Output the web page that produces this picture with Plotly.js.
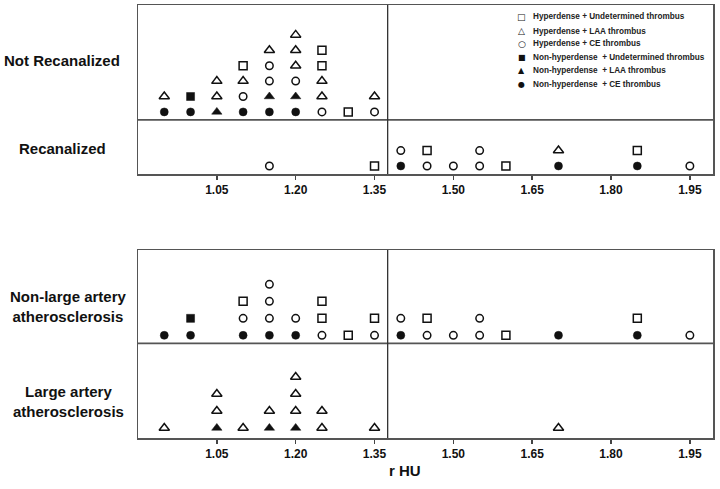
<!DOCTYPE html>
<html>
<head>
<meta charset="utf-8">
<script src="https://cdn.plot.ly/plotly-3.0.1.min.js"></script>
<style>html,body{margin:0;padding:0;background:#fff;}#chart{width:720px;height:489px;}</style>
</head>
<body>
<div id="chart"></div>
<script>
// ---- Data (r HU values, stacked in order from bottom to top) ----
// Type codes: HU = Hyperdense + Undetermined, HL = Hyperdense + LAA, HC = Hyperdense + CE,
//             NU = Non-hyperdense + Undetermined, NL = Non-hyperdense + LAA, NC = Non-hyperdense + CE
const notRecanX = [0.95,0.95, 1.00,1.00, 1.05,1.05,1.05, 1.10,1.10,1.10,1.10,
  1.15,1.15,1.15,1.15,1.15, 1.20,1.20,1.20,1.20,1.20,1.20, 1.25,1.25,1.25,1.25,1.25, 1.30, 1.35,1.35];
const notRecanType = ['NC','HL', 'NC','NU', 'NL','HL','HL', 'NC','HC','HL','HU',
  'NC','NL','HC','HC','HL', 'NC','NL','HC','HL','HL','HL', 'HC','HL','HL','HU','HU', 'HU', 'HC','HL'];

const recanX = [1.15, 1.35, 1.40,1.40, 1.45,1.45, 1.50, 1.55,1.55, 1.60, 1.70,1.70, 1.85,1.85, 1.95];
const recanType = ['HC', 'HU', 'NC','HC', 'HC','HU', 'HC', 'HC','HC', 'HU', 'NC','HL', 'NC','HU', 'HC'];

const nonLaaX = [0.95, 1.00,1.00, 1.10,1.10,1.10, 1.15,1.15,1.15,1.15, 1.20,1.20, 1.25,1.25,1.25, 1.30,
  1.35,1.35, 1.40,1.40, 1.45,1.45, 1.50, 1.55,1.55, 1.60, 1.70, 1.85,1.85, 1.95];
const nonLaaType = ['NC', 'NC','NU', 'NC','HC','HU', 'NC','HC','HC','HC', 'NC','HC', 'HC','HU','HU', 'HU',
  'HC','HU', 'NC','HC', 'HC','HU', 'HC', 'HC','HC', 'HU', 'NC', 'NC','HU', 'HC'];

const laaX = [0.95, 1.05,1.05,1.05, 1.10, 1.15,1.15, 1.20,1.20,1.20,1.20, 1.25,1.25, 1.35, 1.70];
const laaType = ['HL', 'NL','HL','HL', 'HL', 'NL','HL', 'NL','HL','HL','HL', 'HL','HL', 'HL', 'HL'];

const typeCodes = ['HU','HL','HC','NU','NL','NC'];
const typeNames = ['Hyperdense + Undetermined thrombus','Hyperdense + LAA thrombus','Hyperdense + CE thrombus',
  'Non-hyperdense  + Undetermined thrombus','Non-hyperdense  + LAA thrombus','Non-hyperdense  + CE thrombus'];
const tickVals = [1.05, 1.20, 1.35, 1.50, 1.65, 1.80, 1.95];
const rowLabels = ['Not Recanalized','Recanalized','Non-large artery<br>atherosclerosis','Large artery<br>atherosclerosis'];
const axisTitle = 'r HU';

// ---- Styling ----
const FONT = 'Liberation Sans, Arial, sans-serif';
const symbols = {HU:'square-open', HL:'triangle-up-open', HC:'circle-open', NU:'square', NL:'triangle-up', NC:'circle'};
const sizes = {HU:8, HL:9, HC:7.5, NU:8, NL:9, NC:8};
const legendGlyph = {HU:'\u25A1', HL:'\u25B3', HC:'\u25CB', NU:'\u25A0', NL:'\u25B2', NC:'\u25CF'};

// stacking: level = number of earlier points in same group with same x
function stack(xs){
  const seen = {};
  return xs.map(x => { const k = x.toFixed(2); seen[k] = (seen[k]||0); return seen[k]++; });
}
const groups = [
  {x: notRecanX, t: notRecanType, offset: 3.51, ax: 'y'},
  {x: recanX, t: recanType, offset: 0, ax: 'y'},
  {x: nonLaaX, t: nonLaaType, offset: 5.45, ax: 'y2'},
  {x: laaX, t: laaType, offset: 0, ax: 'y2'}
];

const traces = [];
['y','y2'].forEach((ax, pi) => {
  typeCodes.forEach((code, ti) => {
    const xs = [], ys = [];
    groups.filter(g => g.ax === ax).forEach(g => {
      const lv = stack(g.x);
      g.x.forEach((xv, i) => { if (g.t[i] === code) { xs.push(xv); ys.push(g.offset + lv[i]); } });
    });
    traces.push({
      type: 'scatter', mode: 'markers', x: xs, y: ys,
      xaxis: ax === 'y' ? 'x' : 'x2', yaxis: ax,
      name: typeNames[ti], legendgroup: code, showlegend: false,
      marker: {symbol: symbols[code], size: sizes[code], color: '#111',
               line: {color: '#111', width: code[0] === 'H' ? 1.5 : 0.5}}
    });
  });
});

const xCommon = {
  range: [0.90, 1.994], tickvals: tickVals, tickformat: '.2f', ticks: 'outside', ticklen: 4,
  tickwidth: 1.5, tickcolor: '#444', showline: true, mirror: true, linecolor: '#555', linewidth: 1.5,
  showgrid: false, zeroline: false, fixedrange: true,
  tickfont: {family: FONT, size: 12, color: '#111', weight: 'bold'}
};
const yCommon = {showline: true, mirror: true, linecolor: '#555', linewidth: 1.5, showgrid: false,
  zeroline: false, showticklabels: false, ticks: '', fixedrange: true};

const PL = 138, PT = 5, PW = 575, PH = 433;
const px = v => (v - PL) / PW;
const py = v => (PT + PH - v) / PH;

const annotations = [];
const labelPos = [[62, 60.7], [62, 148], [68, 306.5], [68, 401]];
rowLabels.forEach((t, i) => annotations.push({
  text: '<b>' + t + '</b>', xref: 'paper', yref: 'paper', x: px(labelPos[i][0]), y: py(labelPos[i][1]),
  xanchor: 'center', yanchor: 'middle', showarrow: false, align: 'center',
  font: {family: FONT, size: 15, color: '#111'}
}));
annotations.push({text: '<b>' + axisTitle + '</b>', xref: 'paper', yref: 'paper', x: px(405), y: py(470),
  xanchor: 'center', yanchor: 'middle', showarrow: false, font: {family: FONT, size: 15, color: '#111'}});
const legRows = [16.7, 31, 44, 57.3, 71, 85];
typeCodes.forEach((code, i) => {
  annotations.push({text: legendGlyph[code], xref: 'paper', yref: 'paper', x: px(521.7), y: py(legRows[i]),
    xanchor: 'center', yanchor: 'middle', showarrow: false,
    font: {family: 'DejaVu Sans, sans-serif', size: code[0] === 'H' ? 9 : 8, color: '#111'}});
  annotations.push({text: '<b>' + typeNames[i] + '</b>', xref: 'paper', yref: 'paper', x: px(530.7), y: py(legRows[i]),
    xanchor: 'left', yanchor: 'middle', showarrow: false,
    font: {family: FONT, size: 8.2, color: '#222'}});
});

const lineStyle = {color: '#333', width: 1.3};
const shapes = [
  {type: 'line', xref: 'x domain', yref: 'y', x0: 0, x1: 1, y0: 2.99, y1: 2.99, line: {color: '#555', width: 1.8}},
  {type: 'line', xref: 'x2 domain', yref: 'y2', x0: 0, x1: 1, y0: 4.98, y1: 4.98, line: {color: '#555', width: 1.8}},
  {type: 'line', xref: 'x', yref: 'y domain', x0: 1.375, x1: 1.375, y0: 0, y1: 1, line: lineStyle},
  {type: 'line', xref: 'x2', yref: 'y2 domain', x0: 1.375, x1: 1.375, y0: 0, y1: 1, line: lineStyle}
];

const layout = {
  width: 720, height: 489, margin: {l: PL, r: 720 - PL - PW, t: PT, b: 489 - PT - PH},
  paper_bgcolor: '#fff', plot_bgcolor: '#fff', showlegend: false,
  font: {family: FONT, color: '#111'},
  xaxis: Object.assign({}, xCommon, {anchor: 'y', domain: [0, 1]}),
  xaxis2: Object.assign({}, xCommon, {anchor: 'y2', domain: [0, 1]}),
  yaxis: Object.assign({}, yCommon, {domain: [py(174), 1], range: [-0.52, 10.45]}),
  yaxis2: Object.assign({}, yCommon, {domain: [0, py(250)], range: [-0.59, 10.47]}),
  annotations: annotations, shapes: shapes
};

Plotly.newPlot('chart', traces, layout, {displayModeBar: false, staticPlot: true});
</script>
</body>
</html>
